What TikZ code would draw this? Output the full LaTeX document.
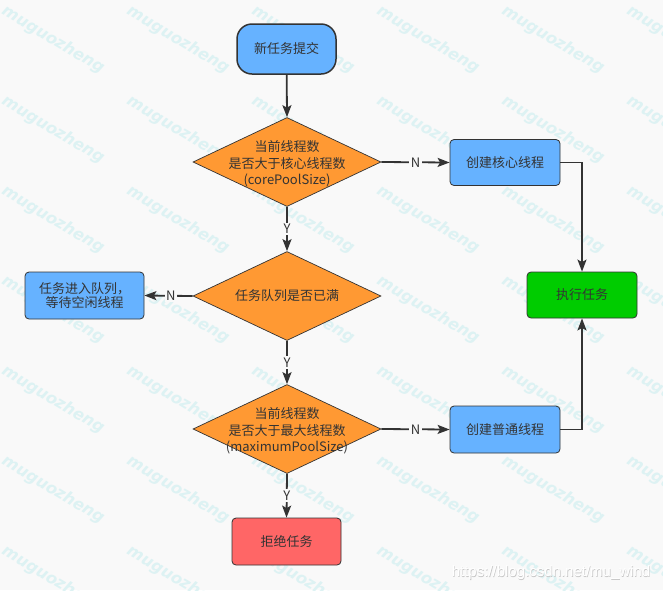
\documentclass[tikz,border=0pt]{standalone}
\usepackage{fontspec}
\setmainfont{Noto Sans CJK SC}
\newfontfamily\wmfont{DejaVu Sans}
\newfontfamily\urlfont{Liberation Sans}
\usetikzlibrary{shapes.geometric,arrows.meta}
\definecolor{bgc}{HTML}{F9F9F9}
\definecolor{wmc}{HTML}{DDF2F3}
\definecolor{blueb}{HTML}{66B2FF}
\definecolor{orangeb}{HTML}{FF9933}
\definecolor{greenb}{HTML}{00CC00}
\definecolor{redb}{HTML}{FF6666}
\definecolor{linec}{HTML}{333333}
\definecolor{txtc}{HTML}{333333}
\tikzset{
  box/.style={draw=linec, line width=0.8pt, rounded corners=4pt, minimum width=110pt, minimum height=46pt, inner sep=2pt, text=txtc, font=\fontsize{13}{15}\selectfont, align=center},
  startbox/.style={draw=linec, line width=1.5pt, rounded corners=15pt, fill=blueb, minimum width=99pt, minimum height=50pt, text=txtc, font=\fontsize{13}{15}\selectfont},
  dia/.style={diamond, draw=linec, line width=0.7pt, fill=orangeb, minimum width=188pt, minimum height=89pt, inner sep=0pt},
  diatext/.style={text=txtc, font=\fontsize{13}{16.7}\selectfont, align=center, inner sep=0pt},
  conn/.style={draw=linec, line width=1.8pt, -{Stealth[length=12pt,width=9pt,inset=2.5pt]}},
  lbl/.style={fill=bgc, text=txtc, font=\fontsize{13}{15}\selectfont, inner sep=1.5pt},
  wm/.style={text=wmc, font=\wmfont\bfseries\itshape\fontsize{16}{18}\selectfont, rotate=-31}
}
\begin{document}
\begin{tikzpicture}[x=1pt,y=-1pt]
\fill[bgc] (0,0) rectangle (663,590);
\useasboundingbox (0,0) rectangle (663,590);
% watermarks
\foreach \i in {0,...,5}{
  \foreach \j in {0,...,6}{
    \node[wm] (wm-\i-\j) at ({53+125*\i},{40+90*\j}) {muguozheng};
  }
}
% nodes
\node[startbox] (start) at (286.5,49) {新任务提交};
\node[dia] (d1) at (287,162) {};
\node[diatext] (d1t) at (287,164) {当前线程数\\是否大于核心线程数\\(corePoolSize)};
\node[box, fill=blueb] (core) at (505,162.5) {创建核心线程};
\node[box, fill=greenb] (exec) at (582,295) {执行任务};
\node[dia] (d2) at (287,296) {};
\node[diatext] (d2t) at (287,296) {任务队列是否已满};
\node[box, fill=blueb, minimum width=119pt, minimum height=47pt, font=\fontsize{13}{14.5}\selectfont] (queue) at (84.5,295.5) {任务进入队列，\\等待空闲线程};
\node[dia] (d3) at (287,429) {};
\node[diatext] (d3t) at (287,431) {当前线程数\\是否大于最大线程数\\(maximumPoolSize)};
\node[box, fill=blueb, minimum height=47pt] (normal) at (505,429.5) {创建普通线程};
\node[box, fill=redb, minimum width=109pt, minimum height=47pt] (reject) at (286.5,541.5) {拒绝任务};
% connectors
\draw[conn] (start) -- (d1.north);
\draw[conn] (d1.east) -- node[lbl] (n1) {N} (core.west);
\draw[conn] (d1.south) -- node[lbl] (y1) {Y} (d2.north);
\draw[conn] (d2.west) -- node[lbl, pos=0.45] (n2) {N} (queue.east);
\draw[conn] (d2.south) -- node[lbl] (y2) {Y} (d3.north);
\draw[conn] (d3.east) -- node[lbl] (n3) {N} (normal.west);
\draw[conn] (d3.south) -- node[lbl] (y3) {Y} (reject.north);
\draw[conn] (core.east) -| (exec.north);
\draw[conn] (normal.east) -| (exec.south);
% url text
\node[text=black!22, font=\urlfont\fontsize{15}{17}\selectfont] (url0) at (551.6,573.6) {https://blog.csdn.net/mu\_wind};
\node[text=white, font=\urlfont\fontsize{15}{17}\selectfont] (url) at (551,573) {https://blog.csdn.net/mu\_wind};
\end{tikzpicture}
\end{document}
